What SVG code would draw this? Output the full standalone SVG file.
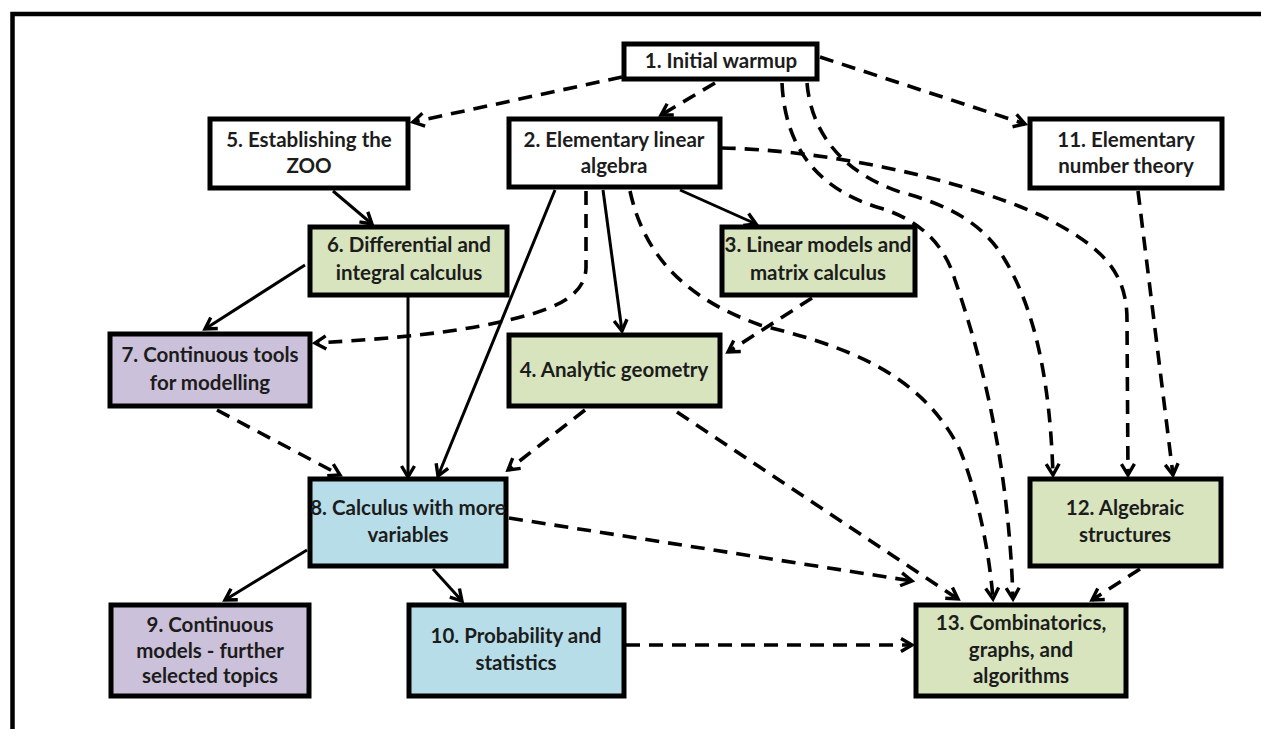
<svg xmlns="http://www.w3.org/2000/svg" width="1261" height="729" viewBox="0 0 1261 729">
<defs>
<marker id="ah" markerUnits="userSpaceOnUse" markerWidth="16" markerHeight="16" refX="12" refY="7" orient="auto" overflow="visible">
<path d="M1,0.5 L12,7 L1,13.5" fill="none" stroke="#000" stroke-width="3.4" stroke-linejoin="miter"/>
</marker>
</defs>
<style>
.box{stroke:#000;stroke-width:5}
.w{fill:#fff}.g{fill:#d7e4bd}.p{fill:#ccc1da}.b{fill:#b7dee8}
.t{font-family:Lato,"Open Sans",sans-serif;font-weight:700;font-size:20.5px;fill:#1c1c1c;text-anchor:middle}
.s{fill:none;stroke:#000;stroke-width:3;marker-end:url(#ah)}
.d{fill:none;stroke:#000;stroke-width:3.6;stroke-dasharray:14 9;marker-end:url(#ah)}
</style>
<rect width="1261" height="729" fill="#fff"/>
<path d="M12.5,729 V14 H1261" fill="none" stroke="#000" stroke-width="4.5"/>

<g id="connectors">
<path class="d" d="M622,77 L413,122"/>
<path class="d" d="M715,83 L661,115"/>
<path class="d" d="M820,57 L1025,124"/>
<path class="s" d="M680,190 L756,224"/>
<path class="s" d="M333,191 L372,224"/>
<path class="s" d="M305,265 L205,329"/>
<path class="s" d="M408,297 L408,477"/>
<path class="s" d="M555,190 L438,476"/>
<path class="s" d="M603,190 L622,331"/>
<path class="d" d="M586,191 L586,268 C585,300 545,312 500,322 C450,333 390,339 315,343"/>
<path class="d" d="M630,191 C645,260 690,300 760,325 C840,345 920,370 960,450 C980,500 990,560 993,599"/>
<path class="d" d="M782,83 C785,150 820,190 880,208 C920,220 945,245 955,280 C972,330 1008,440 1013,599"/>
<path class="d" d="M807,83 C812,140 850,175 900,192 C950,205 985,225 1005,260 C1035,310 1050,380 1053,475"/>
<path class="d" d="M722,148 C820,150 950,175 1040,215 C1100,245 1127,270 1127,320 L1128,475"/>
<path class="d" d="M1138,191 L1173,475"/>
<path class="d" d="M1140,569 L1092,600"/>
<path class="d" d="M812,298 L728,352"/>
<path class="d" d="M585,410 L508,470"/>
<path class="d" d="M217,410 L340,475"/>
<path class="d" d="M677,412 L958,599"/>
<path class="s" d="M307,550 L225,600"/>
<path class="s" d="M433,569 L462,601"/>
<path class="d" d="M509,518 L912,581"/>
<path class="d" d="M626,645 L912,645"/>
</g>

<g id="n1"><rect class="box w" x="624" y="44" width="193" height="35"/><text class="t" x="721" y="68">1. Initial warmup</text></g>
<g id="n5"><rect class="box w" x="210" y="119" width="198" height="69"/><text class="t" x="309" y="147">5. Establishing the</text><text class="t" x="309" y="173">ZOO</text></g>
<g id="n2"><rect class="box w" x="509" y="119" width="211" height="68"/><text class="t" x="614" y="147">2. Elementary linear</text><text class="t" x="614" y="173">algebra</text></g>
<g id="n11"><rect class="box w" x="1030" y="119" width="192" height="69"/><text class="t" x="1126" y="147">11. Elementary</text><text class="t" x="1126" y="173">number theory</text></g>
<g id="n6"><rect class="box g" x="310" y="227" width="197" height="68"/><text class="t" x="409" y="252">6. Differential and</text><text class="t" x="409" y="280">integral calculus</text></g>
<g id="n3"><rect class="box g" x="722" y="227" width="193" height="68"/><text class="t" x="818" y="252">3. Linear models and</text><text class="t" x="818" y="280">matrix calculus</text></g>
<g id="n7"><rect class="box p" x="110" y="334" width="200" height="72"/><text class="t" x="210" y="362">7. Continuous tools</text><text class="t" x="210" y="390">for modelling</text></g>
<g id="n4"><rect class="box g" x="509" y="335" width="211" height="71"/><text class="t" x="614" y="377">4. Analytic geometry</text></g>
<g id="n8"><rect class="box b" x="310" y="479" width="196" height="87"/><text class="t" x="408" y="515">8. Calculus with more</text><text class="t" x="408" y="542">variables</text></g>
<g id="n12"><rect class="box g" x="1030" y="479" width="191" height="87"/><text class="t" x="1125" y="515">12. Algebraic</text><text class="t" x="1125" y="542">structures</text></g>
<g id="n9"><rect class="box p" x="111" y="605" width="198" height="91"/><text class="t" x="210" y="632">9. Continuous</text><text class="t" x="210" y="658">models - further</text><text class="t" x="210" y="683">selected topics</text></g>
<g id="n10"><rect class="box b" x="409" y="605" width="215" height="91"/><text class="t" x="516" y="643">10. Probability and</text><text class="t" x="516" y="670">statistics</text></g>
<g id="n13"><rect class="box g" x="916" y="605" width="210" height="91"/><text class="t" x="1021" y="630">13. Combinatorics,</text><text class="t" x="1021" y="657">graphs, and</text><text class="t" x="1021" y="683">algorithms</text></g>
</svg>
